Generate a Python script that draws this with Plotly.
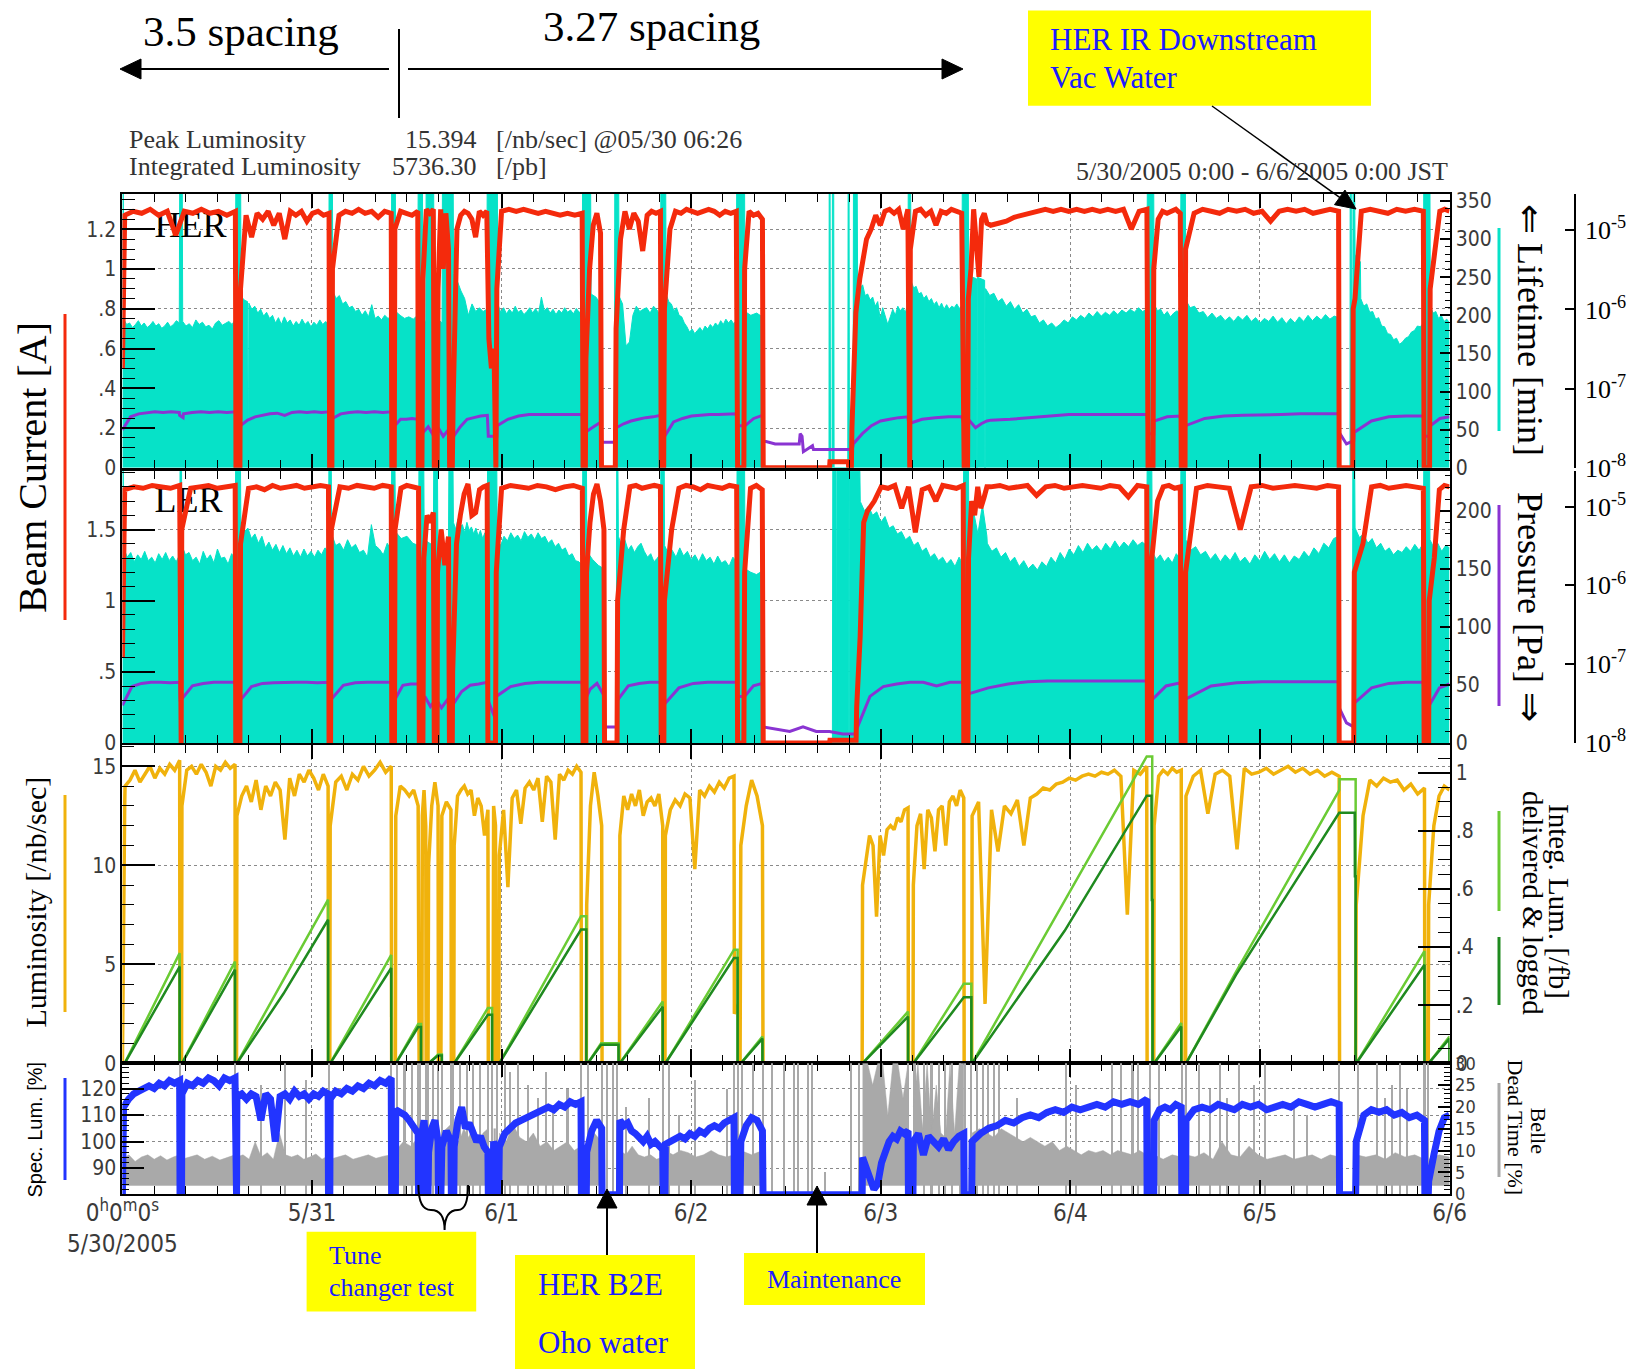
import numpy as np
import plotly.graph_objects as go

# Time is counted in days from 2005-05-30 00:00 JST.
day_ticks = [0, 1, 2, 3, 4, 5, 6, 7]
day_labels = ["0<sup>h</sup>0<sup>m</sup>0<sup>s</sup><br>5/30/2005",
              "5/31", "6/1", "6/2", "6/3", "6/4", "6/5", "6/6"]

# Every series is a list of (start_day, end_day, samples); samples are spread
# evenly over the span and consecutive spans are joined into one trace.

# HER beam current [A]
her_current = [
    (0.000, 0.010, [0.50, 1.22]),
    (0.012, 0.596, [1.27, 1.29, 1.28, 1.30, 1.27, 1.29, 1.17, 1.29, 1.28, 1.30, 1.28, 1.29, 1.27, 1.29]),
    (0.599, 0.620, [0.00, 0.00]),
    (0.623, 1.090, [0.90, 1.27, 1.16, 1.28, 1.25, 1.29, 1.22, 1.28, 1.15, 1.29, 1.27, 1.29, 1.24, 1.28, 1.29, 1.27, 1.28]),
    (1.093, 1.105, [0.00, 0.00]),
    (1.108, 1.418, [1.00, 1.27, 1.29, 1.28, 1.30, 1.28, 1.29, 1.26, 1.29, 1.28]),
    (1.421, 1.434, [0.00, 0.00]),
    (1.437, 1.558, [1.20, 1.29, 1.28, 1.27, 1.29]),
    (1.561, 1.580, [0.00, 0.00]),
    (1.585, 1.640, [0.95, 1.30, 1.28, 1.30]),
    (1.645, 1.660, [0.00, 0.00]),
    (1.665, 1.720, [0.90, 1.30, 1.00, 1.28, 1.10]),
    (1.726, 1.740, [0.00, 0.00]),
    (1.745, 1.922, [0.35, 1.20, 1.27, 1.29, 1.28, 1.25, 1.16, 1.29, 1.27, 1.29]),
    (1.933, 1.960, [0.65, 0.50, 0.60]),
    (1.965, 1.970, [0.00, 0.00]),
    (1.975, 1.998, [0.90, 1.25]),
    (2.000, 2.425, [1.29, 1.30, 1.29, 1.30, 1.29, 1.28, 1.29, 1.28, 1.27, 1.28, 1.27, 1.28]),
    (2.430, 2.442, [0.00, 0.00]),
    (2.445, 2.522, [0.55, 1.00, 1.22, 1.28, 1.18]),
    (2.527, 2.600, [0.00, 0.00]),
    (2.604, 2.838, [0.70, 1.15, 1.29, 1.20, 1.28, 1.24, 1.09, 1.27, 1.29, 1.28, 1.29]),
    (2.842, 2.855, [0.00, 0.00]),
    (2.859, 3.238, [0.80, 1.20, 1.29, 1.28, 1.30, 1.29, 1.28, 1.29, 1.30, 1.29, 1.27, 1.29, 1.28, 1.29]),
    (3.245, 3.278, [0.00, 0.00]),
    (3.282, 3.376, [1.00, 1.29, 1.27, 1.28, 1.25]),
    (3.380, 3.730, [0.00, 0.00]),
    (3.732, 3.829, [0.03, 0.03]),
    (3.831, 3.845, [0.00, 0.00]),
    (3.848, 3.910, [0.20, 0.78, 0.95, 1.05]),
    (3.925, 4.143, [1.15, 1.20, 1.27, 1.22, 1.29, 1.30, 1.28, 1.30, 1.20, 1.30]),
    (4.147, 4.153, [0.00, 0.00]),
    (4.156, 4.427, [1.10, 1.29, 1.30, 1.27, 1.29, 1.22, 1.29, 1.28, 1.30, 1.29, 1.28]),
    (4.440, 4.458, [0.00, 0.00]),
    (4.462, 4.560, [0.85, 1.00, 1.30, 1.10, 0.96, 1.25, 1.28, 1.23]),
    (4.580, 5.404, [1.22, 1.23, 1.24, 1.26, 1.27, 1.28, 1.29, 1.30, 1.29, 1.30, 1.29, 1.30, 1.29, 1.30,
                    1.29, 1.30, 1.29, 1.30, 1.20, 1.29, 1.30]),
    (5.410, 5.436, [0.00, 0.00]),
    (5.440, 5.580, [1.00, 1.25, 1.29, 1.28, 1.29, 1.30, 1.28]),
    (5.585, 5.605, [0.00, 0.00]),
    (5.608, 6.415, [1.10, 1.28, 1.30, 1.29, 1.28, 1.30, 1.29, 1.30, 1.28, 1.29, 1.24, 1.29, 1.30, 1.29,
                    1.30, 1.28, 1.29, 1.30, 1.29]),
    (6.418, 6.490, [0.00, 0.00]),
    (6.492, 6.530, [0.80, 0.85, 1.00, 1.10, 1.28]),
    (6.535, 6.862, [1.29, 1.30, 1.29, 1.28, 1.30, 1.29, 1.30, 1.29]),
    (6.866, 6.895, [0.00, 0.00]),
    (6.898, 7.000, [0.90, 1.10, 1.29, 1.30, 1.29]),
]

# HER beam lifetime [min]
her_lifetime = [
    (0.000, 0.005, [360, 360]),
    (0.007, 0.300, [195, 188, 190, 184, 188, 193, 186, 190, 184, 187, 192, 186, 189, 183, 186, 191, 185,
                    188, 193, 190]),
    (0.302, 0.316, [360, 360]),
    (0.318, 0.596, [192, 186, 189, 184, 194, 188, 191, 185, 187, 182, 190, 193, 187, 189, 192, 188, 195]),
    (0.598, 0.624, [360, 360]),
    (0.626, 0.660, [225, 220, 218]),
    (0.662, 0.665, [0, 0]),
    (0.667, 1.088, [216, 208, 212, 203, 208, 199, 204, 196, 200, 190, 197, 188, 198, 190, 194, 186, 192,
                    187, 195, 188, 192, 185, 191, 187, 194, 188, 192, 188]),
    (1.090, 1.108, [360, 360]),
    (1.110, 1.418, [232, 222, 226, 215, 218, 210, 212, 205, 208, 200, 206, 198, 214, 196, 199, 194, 200,
                    196, 198]),
    (1.420, 1.440, [360, 360]),
    (1.442, 1.557, [205, 200, 196, 198, 195, 200]),
    (1.560, 1.583, [360, 360]),
    (1.585, 1.600, [200, 190]),
    (1.602, 1.642, [360, 360]),
    (1.644, 1.686, [200, 195, 190]),
    (1.688, 1.745, [360, 360]),
    (1.747, 1.922, [255, 245, 232, 222, 200, 215, 205, 210, 205, 208]),
    (1.924, 1.978, [360, 360]),
    (1.980, 2.425, [215, 204, 210, 202, 208, 203, 212, 204, 207, 201, 205, 210, 203, 209, 202, 224, 206,
                    210, 203, 208, 201, 207, 203, 210, 204, 207, 202, 209, 204, 206]),
    (2.427, 2.470, [360, 360]),
    (2.472, 2.523, [228, 224, 215]),
    (2.525, 2.595, [0, 0]),
    (2.597, 2.618, [360, 360]),
    (2.620, 2.838, [225, 215, 160, 165, 200, 212, 205, 208, 210, 203, 212, 207, 200]),
    (2.840, 2.866, [360, 360]),
    (2.868, 3.238, [228, 218, 215, 206, 210, 200, 198, 190, 185, 178, 182, 176, 180, 184, 179, 186, 182,
                    188, 184, 190, 186, 193, 188, 195, 190, 194, 189, 193]),
    (3.240, 3.282, [360, 360]),
    (3.284, 3.376, [205, 200, 203, 198]),
    (3.378, 3.727, [0, 0]),
    (3.728, 3.733, [360, 360]),
    (3.735, 3.743, [0, 0]),
    (3.745, 3.752, [360, 360]),
    (3.754, 3.826, [0, 0]),
    (3.828, 3.833, [360, 360]),
    (3.835, 3.854, [0, 0]),
    (3.856, 3.876, [360, 360]),
    (3.878, 4.143, [245, 236, 240, 226, 228, 220, 224, 212, 218, 195, 210, 200, 188, 198, 208, 200, 212,
                    206, 210, 204, 215]),
    (4.145, 4.158, [360, 360]),
    (4.160, 4.428, [245, 236, 238, 228, 230, 222, 226, 218, 222, 214, 218, 210, 216, 208, 214, 208, 212,
                    210, 215, 209, 213]),
    (4.430, 4.462, [360, 360]),
    (4.464, 4.505, [255, 250, 248]),
    (4.506, 4.508, [0, 0]),
    (4.510, 4.548, [250, 246]),
    (4.549, 4.551, [0, 0]),
    (4.553, 5.403, [235, 226, 229, 218, 222, 212, 218, 208, 214, 203, 208, 198, 200, 190, 194, 186, 190,
                    184, 188, 194, 190, 198, 194, 200, 196, 203, 198, 205, 199, 204, 200, 206, 201, 207,
                    203, 208, 204, 210, 205, 208]),
    (5.406, 5.440, [360, 360]),
    (5.442, 5.580, [215, 206, 208, 200, 205, 198, 203, 206, 202]),
    (5.583, 5.607, [360, 360]),
    (5.609, 6.415, [220, 210, 212, 203, 205, 197, 203, 196, 200, 193, 198, 192, 199, 194, 200, 192, 197,
                    190, 196, 192, 199, 191, 197, 189, 196, 190, 198, 192, 200, 193, 199, 194, 201, 195,
                    199, 197]),
    (6.418, 6.475, [0, 0]),
    (6.476, 6.482, [360, 360]),
    (6.484, 6.489, [0, 0]),
    (6.491, 6.500, [360, 360]),
    (6.502, 6.530, [280, 275, 270]),
    (6.532, 6.862, [222, 212, 215, 204, 205, 195, 197, 186, 185, 176, 175, 168, 170, 162, 165, 170, 172,
                    178, 180, 186, 185, 190]),
    (6.864, 6.897, [360, 360]),
    (6.899, 7.000, [212, 203, 205, 196, 200, 192, 195, 190]),
]

# HER vacuum pressure [1e-8 Pa]
her_pressure = [
    (0.000, 0.300, [3.0, 4.4, 4.8, 5.0, 5.1, 5.0, 5.1, 5.0]),
    (0.302, 0.320, [4.6, 4.3]),
    (0.322, 0.597, [4.8, 5.0, 5.1, 5.0, 5.1, 5.0, 5.1]),
    (0.600, 0.620, [4.2, 4.0]),
    (0.622, 1.090, [3.4, 4.0, 4.4, 4.6, 4.8, 4.9, 4.6, 5.0, 5.1, 5.0, 5.1, 5.0, 5.1]),
    (1.093, 1.106, [4.0, 4.0]),
    (1.108, 1.418, [4.2, 4.8, 5.0, 5.1, 5.0, 5.1, 5.0, 5.1]),
    (1.421, 1.435, [4.2, 3.4]),
    (1.437, 1.558, [3.4, 4.1, 4.1, 4.2, 4.1]),
    (1.560, 1.745, [3.4, 2.8, 3.3, 2.6, 3.2, 2.5, 3.0, 2.5]),
    (1.747, 1.925, [2.5, 3.3, 4.1, 4.3, 4.5, 4.6]),
    (1.930, 1.975, [2.5, 2.5]),
    (1.977, 2.425, [3.4, 4.1, 4.5, 4.7, 4.7, 4.8, 4.7, 4.8, 4.7]),
    (2.430, 2.525, [2.7, 3.0, 3.4, 3.8]),
    (2.528, 2.602, [2.1, 2.1]),
    (2.605, 2.838, [3.2, 3.6, 3.9, 4.1, 4.3, 4.4, 4.6]),
    (2.842, 2.858, [2.6, 2.5]),
    (2.860, 3.238, [2.5, 3.8, 4.2, 4.5, 4.6, 4.7, 4.7, 4.8, 4.8]),
    (3.242, 3.282, [3.4, 3.4]),
    (3.284, 3.376, [3.4, 4.2, 4.6]),
    (3.380, 3.570, [2.2, 2.0, 2.0, 2.0]),
    (3.575, 3.585, [2.7, 2.5]),
    (3.592, 3.640, [1.6, 1.9]),
    (3.645, 3.850, [1.7, 1.7, 1.7]),
    (3.855, 4.143, [2.0, 2.7, 3.4, 3.9, 4.1, 4.3, 4.4]),
    (4.148, 4.428, [3.6, 4.1, 4.3, 4.4, 4.4]),
    (4.440, 4.560, [3.4, 3.9, 3.2, 3.6, 3.9]),
    (4.580, 5.404, [4.0, 4.1, 4.3, 4.5, 4.7, 4.7, 4.7, 4.7, 4.7]),
    (5.410, 5.440, [2.7, 2.7]),
    (5.442, 5.580, [3.9, 4.4, 4.5]),
    (5.585, 5.606, [3.0, 3.0]),
    (5.608, 6.415, [3.4, 4.2, 4.5, 4.6, 4.7, 4.7, 4.8, 4.8, 4.8]),
    (6.418, 6.495, [2.8, 2.0, 2.2]),
    (6.497, 6.862, [2.8, 3.9, 4.4, 4.5, 4.5]),
    (6.866, 6.897, [2.5, 2.5]),
    (6.899, 7.000, [3.4, 4.2, 4.4]),
]

# LER beam current [A]
ler_current = [
    (0.000, 0.010, [0.60, 1.70]),
    (0.012, 0.302, [1.78, 1.80, 1.79, 1.81, 1.80, 1.79, 1.81]),
    (0.305, 0.310, [0.00, 0.00]),
    (0.313, 0.595, [1.50, 1.79, 1.80, 1.81, 1.79, 1.80, 1.81]),
    (0.598, 0.620, [0.00, 0.00]),
    (0.623, 1.087, [1.40, 1.79, 1.80, 1.78, 1.81, 1.79, 1.80, 1.81, 1.79, 1.80, 1.81, 1.80]),
    (1.090, 1.098, [0.00, 0.00]),
    (1.102, 1.418, [1.50, 1.80, 1.79, 1.81, 1.80, 1.79, 1.81, 1.80]),
    (1.421, 1.435, [0.00, 0.00]),
    (1.438, 1.562, [1.50, 1.79, 1.81, 1.80, 1.79]),
    (1.566, 1.585, [0.00, 0.00]),
    (1.590, 1.640, [1.30, 1.60, 1.55, 1.62]),
    (1.645, 1.660, [0.00, 0.00]),
    (1.662, 1.720, [1.20, 1.50, 1.25, 1.45]),
    (1.725, 1.740, [0.00, 0.00]),
    (1.742, 1.924, [0.50, 1.40, 1.60, 1.75, 1.82, 1.60, 1.62, 1.78, 1.80, 1.81]),
    (1.928, 1.968, [0.00, 0.00]),
    (1.972, 1.995, [1.20, 1.60]),
    (2.000, 2.426, [1.79, 1.81, 1.80, 1.79, 1.81, 1.80, 1.78, 1.80, 1.81, 1.79]),
    (2.430, 2.445, [0.00, 0.00]),
    (2.448, 2.540, [1.20, 1.55, 1.75, 1.82, 1.70, 1.50]),
    (2.543, 2.609, [0.00, 0.00]),
    (2.612, 2.838, [1.00, 1.50, 1.80, 1.81, 1.79, 1.80, 1.81, 1.80]),
    (2.842, 2.856, [0.00, 0.00]),
    (2.859, 3.240, [1.00, 1.50, 1.79, 1.81, 1.80, 1.78, 1.81, 1.80, 1.79, 1.81, 1.80]),
    (3.245, 3.278, [0.00, 0.00]),
    (3.282, 3.375, [1.20, 1.79, 1.81, 1.78]),
    (3.380, 3.730, [0.00, 0.00]),
    (3.732, 3.870, [0.02, 0.02]),
    (3.873, 3.910, [0.25, 0.75, 1.55]),
    (3.930, 4.435, [1.63, 1.70, 1.80, 1.79, 1.81, 1.65, 1.80, 1.48, 1.78, 1.80, 1.70, 1.81, 1.80, 1.79, 1.81]),
    (4.438, 4.460, [0.00, 0.00]),
    (4.463, 4.560, [1.30, 1.70, 1.60, 1.80, 1.65, 1.72, 1.80]),
    (4.580, 5.403, [1.80, 1.81, 1.79, 1.80, 1.81, 1.74, 1.80, 1.81, 1.79, 1.80, 1.81, 1.80, 1.79, 1.81,
                    1.80, 1.73, 1.81, 1.80]),
    (5.407, 5.427, [0.00, 0.00]),
    (5.430, 5.580, [1.30, 1.70, 1.80, 1.81, 1.79, 1.80]),
    (5.585, 5.605, [0.00, 0.00]),
    (5.608, 6.415, [1.20, 1.79, 1.81, 1.80, 1.79, 1.50, 1.80, 1.81, 1.79, 1.80, 1.81, 1.80, 1.79, 1.81, 1.80]),
    (6.418, 6.495, [0.00, 0.00]),
    (6.498, 6.862, [1.20, 1.40, 1.80, 1.81, 1.79, 1.80, 1.81, 1.80, 1.79]),
    (6.866, 6.890, [0.00, 0.00]),
    (6.893, 7.000, [1.00, 1.30, 1.78, 1.81, 1.80]),
]

# LER beam lifetime [min]
ler_lifetime = [
    (0.000, 0.005, [234, 234]),
    (0.007, 0.302, [168, 160, 164, 156, 162, 158, 165, 157, 160, 155, 163, 158, 164, 157, 161, 156, 162]),
    (0.304, 0.312, [234, 234]),
    (0.314, 0.595, [170, 162, 164, 157, 160, 154, 165, 158, 162, 155, 167, 159, 160, 154, 163, 158]),
    (0.597, 0.623, [234, 234]),
    (0.625, 1.087, [190, 182, 185, 176, 180, 172, 178, 168, 173, 166, 171, 164, 170, 163, 168, 161, 166,
                    160, 167, 161, 165, 160, 166, 162, 168, 165]),
    (1.089, 1.102, [234, 234]),
    (1.104, 1.418, [180, 170, 172, 166, 175, 168, 171, 164, 166, 160, 188, 170, 167, 162, 172, 166]),
    (1.420, 1.438, [234, 234]),
    (1.440, 1.562, [182, 176, 178, 172, 170]),
    (1.564, 1.590, [234, 234]),
    (1.592, 1.640, [175, 170]),
    (1.642, 1.662, [234, 234]),
    (1.664, 1.720, [172, 168, 175]),
    (1.722, 1.744, [234, 234]),
    (1.746, 1.924, [190, 184, 193, 186, 188, 181, 190, 183, 186, 180, 185, 178, 183, 176, 181, 180]),
    (1.926, 1.975, [234, 234]),
    (1.977, 2.426, [175, 170, 178, 174, 181, 176, 179, 174, 182, 177, 180, 175, 181, 176, 178, 172, 175,
                    169, 172, 166, 168, 161, 163, 157, 156, 153]),
    (2.428, 2.448, [234, 234]),
    (2.450, 2.540, [165, 158, 153, 150]),
    (2.542, 2.605, [0, 0]),
    (2.607, 2.614, [234, 234]),
    (2.616, 2.838, [178, 170, 175, 166, 170, 164, 169, 172, 165, 160, 163, 156, 159, 163]),
    (2.840, 2.858, [234, 234]),
    (2.860, 3.240, [170, 163, 166, 160, 168, 161, 165, 158, 162, 156, 163, 157, 160, 154, 161, 155, 157,
                    152, 160, 156]),
    (3.242, 3.282, [234, 234]),
    (3.284, 3.375, [150, 147, 145, 148]),
    (3.377, 3.745, [0, 0]),
    (3.747, 3.764, [234, 234]),
    (3.765, 3.768, [0, 0]),
    (3.769, 3.830, [234, 234]),
    (3.831, 3.834, [0, 0]),
    (3.835, 3.890, [234, 234]),
    (3.892, 4.435, [208, 200, 204, 196, 199, 190, 195, 185, 187, 180, 182, 175, 178, 170, 173, 165, 168,
                    160, 163, 157, 160, 154, 158, 152, 160, 153]),
    (4.437, 4.463, [234, 234]),
    (4.465, 4.560, [175, 200, 180, 205, 178]),
    (4.562, 5.403, [172, 165, 168, 160, 164, 156, 160, 152, 157, 150, 154, 149, 156, 152, 160, 155, 164,
                    158, 167, 162, 170, 164, 172, 166, 170, 165, 172, 167, 174, 168, 173, 169, 175, 170,
                    173, 170]),
    (5.405, 5.430, [234, 234]),
    (5.432, 5.580, [165, 158, 162, 156, 160, 155, 163, 158]),
    (5.583, 5.607, [234, 234]),
    (5.609, 6.415, [175, 166, 169, 162, 165, 158, 163, 156, 162, 157, 164, 156, 160, 154, 162, 157, 165,
                    158, 163, 156, 162, 155, 161, 158, 165, 160, 168, 163, 172, 168, 176, 178]),
    (6.418, 6.488, [0, 0]),
    (6.490, 6.500, [234, 234]),
    (6.502, 6.862, [185, 177, 180, 172, 176, 168, 172, 165, 168, 162, 166, 164, 169, 165, 171, 166, 172]),
    (6.864, 6.895, [234, 234]),
    (6.897, 7.000, [175, 168, 172, 165, 170, 168]),
]

# LER vacuum pressure [1e-8 Pa]
ler_pressure = [
    (0.000, 0.302, [3.0, 5.2, 5.7, 5.9, 5.9, 5.8, 5.9]),
    (0.305, 0.310, [3.5, 3.5]),
    (0.313, 0.595, [3.6, 5.3, 5.7, 5.9, 5.9, 5.9]),
    (0.598, 0.620, [3.5, 3.5]),
    (0.623, 1.087, [3.5, 5.2, 5.7, 5.8, 5.9, 5.9, 5.9, 5.8, 5.9]),
    (1.090, 1.100, [3.6, 3.6]),
    (1.102, 1.418, [3.6, 5.4, 5.8, 5.9, 5.9, 5.9]),
    (1.421, 1.436, [3.5, 3.5]),
    (1.438, 1.562, [3.6, 5.4, 5.6, 5.6]),
    (1.566, 1.742, [2.8, 3.9, 2.9, 3.6, 2.8, 3.5, 2.7]),
    (1.745, 1.924, [3.1, 4.5, 5.4, 5.6, 5.9]),
    (1.928, 1.968, [3.5, 2.0]),
    (1.972, 2.426, [3.9, 5.2, 5.7, 5.9, 5.9, 5.9, 5.9]),
    (2.430, 2.540, [3.1, 4.8, 5.7, 4.0]),
    (2.543, 2.608, [1.6, 1.6]),
    (2.612, 2.838, [3.5, 5.3, 5.7, 5.9, 5.9]),
    (2.842, 2.857, [3.2, 3.1]),
    (2.859, 3.240, [3.1, 5.0, 5.7, 5.9, 5.9, 5.9]),
    (3.245, 3.280, [3.9, 3.9]),
    (3.282, 3.375, [3.9, 5.3, 5.7]),
    (3.380, 3.870, [1.6, 1.5, 1.4, 1.6, 1.4, 1.4, 1.3, 1.3]),
    (3.873, 4.435, [1.5, 3.9, 5.2, 5.6, 5.9, 5.9, 5.3, 5.9, 5.9]),
    (4.438, 4.460, [3.2, 3.2]),
    (4.463, 5.403, [4.2, 5.0, 5.6, 6.0, 6.1, 6.1, 6.1, 6.0, 6.1, 6.1]),
    (5.407, 5.428, [3.5, 3.5]),
    (5.430, 5.580, [3.5, 5.3, 5.8]),
    (5.585, 5.605, [3.5, 3.5]),
    (5.608, 6.415, [3.6, 5.3, 5.8, 6.0, 6.0, 6.0, 6.0]),
    (6.418, 6.495, [2.8, 1.8, 1.6]),
    (6.498, 6.862, [3.2, 5.0, 5.7, 5.9, 5.9]),
    (6.866, 6.890, [2.8, 2.0]),
    (6.893, 7.000, [3.0, 5.0, 5.6]),
]

# Belle luminosity [/nb/sec]
luminosity = [
    (0.000, 0.012, [0.0, 10.0, 13.0]),
    (0.014, 0.302, [14.0, 14.3, 14.8, 14.2, 14.6, 15.0, 14.4, 14.9, 14.6, 15.1, 14.8, 15.3]),
    (0.304, 0.312, [0.0, 0.0]),
    (0.314, 0.594, [13.0, 14.8, 15.0, 14.6, 15.1, 14.7, 14.0, 15.0, 14.8, 15.2, 14.9, 15.1]),
    (0.596, 0.602, [0.0, 0.0]),
    (0.604, 1.085, [12.5, 13.5, 14.0, 13.2, 14.3, 12.8, 14.0, 13.5, 14.2, 13.8, 11.3, 14.4, 13.5, 14.6,
                    14.2, 14.8, 14.4, 13.8, 14.6, 14.0]),
    (1.087, 1.094, [0.0, 0.0]),
    (1.096, 1.418, [12.0, 14.2, 14.5, 13.8, 14.6, 14.3, 15.0, 14.5, 14.8, 15.2, 14.7, 15.0]),
    (1.420, 1.440, [0.0, 0.0]),
    (1.442, 1.560, [12.5, 14.0, 13.8, 13.5, 13.8, 13.0]),
    (1.565, 1.580, [0.0, 0.0]),
    (1.582, 1.600, [12.5, 13.8, 12.0]),
    (1.602, 1.612, [0.0, 0.0]),
    (1.615, 1.665, [10.0, 13.0, 14.2, 13.0]),
    (1.667, 1.680, [0.0, 0.0]),
    (1.685, 1.733, [12.5, 13.2, 12.8]),
    (1.735, 1.748, [0.0, 0.0]),
    (1.750, 1.928, [11.0, 13.5, 13.8, 14.0, 13.6, 13.8, 12.5, 13.4, 13.0, 11.5, 12.8]),
    (1.930, 1.955, [0.0, 0.0]),
    (1.958, 1.968, [13.0, 12.0]),
    (1.970, 1.985, [0.0, 0.0]),
    (1.988, 2.419, [10.5, 12.8, 8.9, 13.4, 13.8, 12.1, 13.9, 14.2, 13.8, 14.4, 12.2, 14.5, 14.2, 11.3,
                    14.6, 14.3, 14.8, 14.6, 15.0, 14.7]),
    (2.421, 2.447, [0.0, 0.0]),
    (2.449, 2.528, [8.0, 13.0, 14.7, 13.5, 12.0]),
    (2.530, 2.622, [0.0, 0.0]),
    (2.624, 2.850, [11.5, 13.5, 12.8, 13.6, 13.0, 13.8, 12.5, 13.2, 13.4, 13.0, 13.6, 12.0]),
    (2.852, 2.862, [0.0, 0.0]),
    (2.864, 3.226, [11.5, 12.8, 13.3, 13.0, 13.6, 13.4, 9.8, 13.8, 13.5, 14.0, 13.7, 14.2, 13.9, 14.4, 14.5]),
    (3.228, 3.250, [2.5, 3.0]),
    (3.252, 3.258, [0.0, 0.0]),
    (3.262, 3.376, [11.0, 13.0, 14.3, 13.5, 12.0]),
    (3.379, 3.902, [0.0, 0.0]),
    (3.904, 4.144, [9.0, 10.3, 11.5, 11.0, 7.4, 11.5, 10.5, 11.8, 12.0, 11.8, 12.4, 12.2, 12.8, 12.9]),
    (4.146, 4.170, [0.0, 0.0]),
    (4.172, 4.438, [9.0, 12.0, 12.6, 9.8, 12.8, 12.4, 10.7, 12.8, 13.0, 11.0, 13.2, 13.5, 13.0, 13.8, 13.4]),
    (4.440, 4.480, [0.0, 0.0]),
    (4.482, 5.403, [12.5, 13.2, 3.0, 12.8, 10.7, 13.0, 12.6, 13.3, 11.0, 13.4, 13.6, 13.9, 13.8, 14.1,
                    14.2, 14.4, 14.3, 14.5, 14.6, 14.5, 14.7, 14.6, 14.8, 14.5, 7.5, 14.8, 14.6, 15.0]),
    (5.405, 5.440, [0.0, 0.0]),
    (5.442, 5.585, [12.0, 14.5, 14.8, 14.6, 14.9, 14.7, 14.8]),
    (5.588, 5.608, [0.0, 0.0]),
    (5.610, 6.418, [13.5, 14.5, 14.8, 12.6, 14.6, 14.8, 14.5, 10.8, 14.9, 14.6, 14.7, 14.9, 14.6, 14.8,
                    15.0, 14.7, 14.9, 14.6, 14.8, 14.5, 14.7, 14.5]),
    (6.420, 6.505, [0.0, 0.0]),
    (6.508, 6.868, [8.0, 12.5, 14.3, 14.0, 14.4, 14.2, 14.3, 13.8, 14.1, 13.6, 13.9]),
    (6.870, 6.888, [0.0, 0.0]),
    (6.890, 7.000, [8.0, 12.0, 13.5, 14.0, 13.8]),
]

# Integrated luminosity per run [/fb]: polylines (day, value)
integ_delivered = [
    [(0.012, 0.0), (0.302, 0.379)],
    [(0.314, 0.0), (0.594, 0.350)],
    [(0.604, 0.0), (1.085, 0.563)],
    [(1.096, 0.0), (1.418, 0.373)],
    [(1.442, 0.0), (1.560, 0.135), (1.575, 0.135)],
    [(1.615, 0.0), (1.665, 0.030), (1.685, 0.030)],
    [(1.750, 0.0), (1.928, 0.190), (1.950, 0.190)],
    [(1.988, 0.0), (2.419, 0.506), (2.447, 0.506)],
    [(2.455, 0.0), (2.525, 0.069), (2.617, 0.069)],
    [(2.624, 0.0), (2.850, 0.213)],
    [(2.864, 0.0), (3.226, 0.391), (3.245, 0.391)],
    [(3.262, 0.0), (3.376, 0.092)],
    [(3.904, 0.0), (4.144, 0.178)],
    [(4.172, 0.0), (4.438, 0.274), (4.478, 0.274)],
    [(4.482, 0.0), (5.403, 1.056), (5.432, 1.056)],
    [(5.442, 0.0), (5.585, 0.139)],
    [(5.610, 0.0), (5.874, 0.315), (6.418, 0.939), (6.420, 0.977), (6.505, 0.977)],
    [(6.508, 0.0), (6.868, 0.386)],
    [(6.890, 0.0), (7.000, 0.092)],
]
integ_logged = [
    [(0.012, 0.0), (0.302, 0.333)],
    [(0.314, 0.0), (0.594, 0.322)],
    [(0.604, 0.0), (0.850, 0.240), (1.085, 0.494)],
    [(1.096, 0.0), (1.418, 0.328)],
    [(1.442, 0.0), (1.560, 0.125), (1.575, 0.125)],
    [(1.615, 0.0), (1.665, 0.027), (1.685, 0.027)],
    [(1.750, 0.0), (1.928, 0.167), (1.950, 0.167)],
    [(1.988, 0.0), (2.419, 0.460), (2.447, 0.460)],
    [(2.455, 0.0), (2.525, 0.064), (2.617, 0.064)],
    [(2.624, 0.0), (2.850, 0.195)],
    [(2.864, 0.0), (3.226, 0.362), (3.245, 0.362)],
    [(3.262, 0.0), (3.376, 0.085)],
    [(3.904, 0.0), (4.144, 0.161)],
    [(4.172, 0.0), (4.438, 0.227), (4.478, 0.227)],
    [(4.482, 0.0), (4.970, 0.456), (5.403, 0.921), (5.428, 0.921), (5.430, 0.562), (5.434, 0.562)],
    [(5.442, 0.0), (5.585, 0.127)],
    [(5.610, 0.0), (5.874, 0.304), (6.418, 0.862), (6.500, 0.862), (6.501, 0.644), (6.505, 0.644)],
    [(6.508, 0.0), (6.868, 0.339)],
    [(6.890, 0.0), (7.000, 0.085)],
]

# Specific luminosity [%]
spec_lumi = [
    (0.000, 0.004, [80, 112]),
    (0.006, 0.302, [113, 116, 118, 119, 120, 121, 120, 122, 121, 123, 122, 123]),
    (0.304, 0.312, [80, 80]),
    (0.314, 0.594, [118, 122, 121, 123, 122, 124, 123, 121, 124, 123, 124]),
    (0.596, 0.602, [80, 80]),
    (0.604, 1.085, [117, 118, 116, 118, 117, 108, 118, 116, 100, 117, 118, 116, 119, 117, 118, 116, 118, 117, 119, 118]),
    (1.087, 1.094, [80, 80]),
    (1.096, 1.418, [116, 119, 118, 120, 119, 121, 120, 122, 121, 123, 122, 124]),
    (1.420, 1.440, [80, 80]),
    (1.442, 1.560, [112, 111, 110, 108, 106, 103]),
    (1.562, 1.580, [80, 80]),
    (1.582, 1.600, [104, 108, 100]),
    (1.602, 1.612, [80, 80]),
    (1.615, 1.665, [96, 105, 108, 100]),
    (1.667, 1.680, [80, 80]),
    (1.685, 1.733, [98, 104, 100]),
    (1.735, 1.748, [80, 80]),
    (1.750, 1.928, [98, 108, 113, 105, 107, 104, 100, 102, 98, 96]),
    (1.930, 1.955, [80, 80]),
    (1.958, 1.968, [100, 98]),
    (1.970, 1.985, [80, 80]),
    (1.988, 2.419, [98, 103, 105, 107, 108, 109, 110, 111, 112, 113, 112, 114, 113, 115, 114, 115]),
    (2.421, 2.447, [80, 80]),
    (2.449, 2.528, [96, 104, 108, 105]),
    (2.530, 2.622, [80, 80]),
    (2.624, 2.850, [108, 106, 107, 104, 103, 101, 100, 102, 99, 100, 98, 97]),
    (2.852, 2.862, [80, 80]),
    (2.864, 3.226, [99, 100, 101, 102, 101, 103, 102, 104, 103, 105, 106, 105, 107, 108, 109]),
    (3.228, 3.258, [80, 80]),
    (3.262, 3.376, [100, 106, 109, 108, 104]),
    (3.379, 3.902, [80, 80]),
    (3.904, 4.144, [94, 90, 86, 82, 84, 92, 96, 100, 102, 101, 104, 103, 104]),
    (4.146, 4.170, [80, 80]),
    (4.172, 4.438, [100, 103, 95, 102, 100, 98, 101, 97, 100, 102, 103]),
    (4.440, 4.480, [80, 80]),
    (4.482, 5.403, [100, 103, 105, 106, 108, 107, 109, 110, 109, 111, 112, 111, 113, 112, 113, 114,
                    113, 115, 114, 115, 114, 116]),
    (5.405, 5.440, [80, 80]),
    (5.442, 5.585, [108, 112, 113, 112, 114, 113]),
    (5.588, 5.608, [80, 80]),
    (5.610, 6.418, [108, 112, 113, 112, 114, 113, 112, 114, 113, 114, 112, 113, 114, 113, 115, 114,
                    113, 114, 115, 114]),
    (6.420, 6.505, [80, 80]),
    (6.508, 6.868, [100, 110, 112, 111, 112, 110, 111, 109, 110, 108]),
    (6.870, 6.888, [80, 80]),
    (6.890, 7.000, [85, 95, 104, 109, 110]),
]

# Belle dead time [%]: upper edge of the band during each physics run
dead_time_top = [
    (0.000, 0.302, [8.0, 9.0, 7.5, 8.5, 9.0, 8.0, 8.8, 7.8, 8.5, 9.0]),
    (0.314, 0.594, [8.0, 8.5, 9.0, 8.0, 8.7, 7.8, 8.4, 9.0]),
    (0.604, 1.085, [8.5, 9.0, 8.0, 12.0, 8.5, 9.5, 8.0, 14.0, 9.0, 8.5, 9.0, 8.0, 8.5, 9.2, 8.0, 8.8]),
    (1.096, 1.418, [8.0, 8.5, 9.0, 8.0, 8.5, 9.0, 8.2, 8.7, 9.0]),
    (1.442, 1.560, [10.0, 12.0, 11.0, 13.0]),
    (1.582, 1.600, [14.0, 16.0]),
    (1.615, 1.665, [15.0, 12.0, 16.0]),
    (1.685, 1.733, [14.0, 16.0]),
    (1.750, 1.928, [14.0, 12.0, 15.0, 13.0, 16.0, 12.0, 14.0, 15.0]),
    (1.958, 1.968, [15.0, 15.0]),
    (1.988, 2.419, [14.0, 12.0, 16.0, 13.0, 12.0, 14.0, 11.0, 12.0, 10.0, 11.0, 12.0, 10.0, 11.0]),
    (2.449, 2.528, [12.0, 14.0, 12.0]),
    (2.624, 2.850, [10.0, 9.0, 11.0, 9.0, 8.5, 9.0, 8.0, 8.5]),
    (2.864, 3.226, [10.0, 9.0, 10.0, 9.5, 8.5, 9.0, 10.0, 9.0, 8.5, 9.0]),
    (3.262, 3.376, [10.0, 9.0, 10.0]),
    (3.904, 4.144, [30.0, 30.0, 25.0, 30.0, 30.0, 18.0, 30.0, 30.0, 22.0, 30.0]),
    (4.172, 4.438, [20.0, 30.0, 15.0, 30.0, 14.0, 25.0, 14.0, 13.0, 30.0, 14.0, 30.0, 30.0]),
    (4.482, 5.403, [14.0, 15.0, 14.0, 13.0, 15.0, 14.0, 13.0, 12.0, 13.0, 12.0, 11.0, 12.0, 10.0, 11.0,
                    10.0, 9.0, 10.0, 9.5, 10.0, 9.0, 10.0, 9.5, 9.0, 10.0, 9.0]),
    (5.442, 5.585, [9.0, 8.0, 9.0, 8.5]),
    (5.610, 6.418, [9.0, 8.5, 9.5, 8.0, 12.0, 9.0, 8.5, 11.0, 9.0, 8.0, 8.5, 9.0, 8.0, 8.5, 9.0, 8.0, 9.0, 8.5]),
    (6.508, 6.868, [9.0, 8.5, 9.0, 8.0, 9.5, 8.5, 9.0, 8.0]),
    (6.890, 7.000, [8.0, 9.0, 8.5]),
]
dead_time_floor = 2.0  # lower edge of the dead-time band [%]

# Short dead-time excursions (day, peak %)
dead_time_spikes = [
    (0.304, 30), (0.597, 30), (0.734, 25), (0.858, 30), (0.970, 26), (1.090, 30), (1.420, 30),
    (1.452, 30), (1.490, 30), (1.530, 30), (1.563, 30), (1.574, 30), (1.604, 30), (1.612, 30),
    (1.642, 30), (1.668, 30), (1.690, 30), (1.736, 30), (1.748, 30), (1.782, 30), (1.820, 30),
    (1.853, 30), (1.890, 30), (1.930, 30), (1.950, 30), (1.978, 30), (2.020, 30), (2.045, 28),
    (2.090, 30), (2.140, 25), (2.195, 22), (2.235, 28), (2.275, 20), (2.350, 24), (2.423, 30),
    (2.460, 30), (2.530, 30), (2.560, 30), (2.590, 30), (2.610, 30), (2.660, 20), (2.780, 22),
    (2.852, 30), (2.886, 30), (2.940, 18), (3.020, 26), (3.190, 24), (3.230, 30), (3.250, 30),
    (3.270, 30), (3.330, 30), (3.382, 30), (3.430, 30), (3.490, 30), (3.545, 30), (3.565, 30),
    (3.620, 30), (3.640, 30), (3.710, 5), (3.845, 30), (3.886, 30), (4.146, 30), (4.180, 30),
    (4.230, 30), (4.270, 30), (4.310, 30), (4.340, 30), (4.380, 30), (4.420, 30), (4.445, 30),
    (4.480, 30), (4.510, 30), (4.540, 30), (4.570, 30), (4.600, 30), (4.625, 30), (4.720, 22),
    (4.980, 30), (5.030, 25), (5.220, 30), (5.270, 30), (5.330, 30), (5.360, 30), (5.420, 30),
    (5.470, 30), (5.590, 30), (5.610, 30), (5.680, 30), (5.740, 24), (5.790, 30), (5.830, 22),
    (5.890, 30), (5.970, 25), (6.030, 30), (6.180, 20), (6.250, 18), (6.420, 30), (6.520, 30),
    (6.620, 30), (6.660, 22), (6.700, 25), (6.740, 30), (6.780, 24), (6.870, 30), (6.890, 30),
]

# ---------------------------------------------------------------------------
W, H = 1641, 1370


def px(x):
    return x / W


def py(y):
    return 1 - y / H


def expand(segments, unit=1.0):
    xs, ys = [], []
    for t0, t1, vals in segments:
        xs += list(np.linspace(t0, t1, len(vals)))
        ys += [v * unit for v in vals]
    return xs, ys


def polylines(pieces):
    xs, ys = [], []
    for piece in pieces:
        for t, v in piece:
            xs.append(t)
            ys.append(v)
        xs += [piece[-1][0], None]
        ys += [0.0, None]
    return xs, ys


def band(segments, floor):
    xs, ys = [], []
    for t0, t1, vals in segments:
        xs += list(np.linspace(t0, t1, len(vals))) + [t1, t0, None]
        ys += list(vals) + [floor, floor, None]
    return xs, ys


CYAN = "#06e2c8"
RED = "#f42a0c"
PURPLE = "#8a34d2"
GOLD = "#f0b20c"
LGREEN = "#6acb34"
DGREEN = "#1f8a1f"
BLUE = "#2234ff"
GRAY = "#a9a9a9"
TXT_BLUE = "#1c1cff"
YELLOW = "#ffff00"

SERIF = "Liberation Serif, Times New Roman, serif"
NARROW = "Liberation Sans Narrow, DejaVu Sans Condensed, Arial Narrow, sans-serif"
SANS = "Liberation Sans, Arial, sans-serif"
TICKFONT = dict(family=NARROW, size=21, color="#3a3a3a")

X_DOM = [px(122.4), px(1449.5)]
HER_DOM = [py(467.8), py(193.6)]
LER_DOM = [py(743.0), py(470.5)]
LUM_DOM = [py(1063.3), py(744.5)]
SPEC_DOM = [py(1194.1), py(1063.3)]
LOG_POS = px(1575)

fig = go.Figure()


def lines(xs, ys, color, width, xa, ya, **kw):
    fig.add_trace(go.Scatter(x=xs, y=ys, mode="lines", line=dict(color=color, width=width),
                             xaxis=xa, yaxis=ya, hoverinfo="skip", **kw))


# HER panel: lifetime (base), pressure, current
xs, ys = expand(her_lifetime)
lines(xs, ys, CYAN, 1, "x", "y", fill="tozeroy", fillcolor=CYAN)
fig.add_trace(go.Scatter(x=[0.17], y=[315], mode="text", text=["HER"], textposition="middle right",
                         textfont=dict(family=SERIF, size=36, color="black"), xaxis="x", yaxis="y",
                         hoverinfo="skip"))
xs, ys = expand(her_pressure, 1e-8)
lines(xs, ys, PURPLE, 3, "x", "y2")
xs, ys = expand(her_current)
lines(xs, ys, RED, 5, "x", "y3")

# LER panel
xs, ys = expand(ler_lifetime)
lines(xs, ys, CYAN, 1, "x2", "y4", fill="tozeroy", fillcolor=CYAN)
fig.add_trace(go.Scatter(x=[0.17], y=[207], mode="text", text=["LER"], textposition="middle right",
                         textfont=dict(family=SERIF, size=36, color="black"), xaxis="x2", yaxis="y4",
                         hoverinfo="skip"))
xs, ys = expand(ler_pressure, 1e-8)
lines(xs, ys, PURPLE, 3, "x2", "y5")
xs, ys = expand(ler_current)
lines(xs, ys, RED, 5, "x2", "y6")

# Luminosity panel
xs, ys = expand(luminosity)
lines(xs, ys, GOLD, 3.5, "x3", "y7")
xs, ys = polylines(integ_delivered)
lines(xs, ys, LGREEN, 2.5, "x3", "y8")
xs, ys = polylines(integ_logged)
lines(xs, ys, DGREEN, 2.5, "x3", "y8")

# Specific luminosity / dead time panel
spike_t = [t for t, _ in dead_time_spikes]
spike_h = [h for _, h in dead_time_spikes]
fig.add_trace(go.Bar(x=spike_t, y=spike_h, width=0.011, marker=dict(color=GRAY, line=dict(width=0)),
                     xaxis="x4", yaxis="y9", hoverinfo="skip"))
xs, ys = band(dead_time_top, dead_time_floor)
lines(xs, ys, GRAY, 0.5, "x4", "y9", fill="toself", fillcolor=GRAY)
xs, ys = expand(spec_lumi)
lines(xs, ys, BLUE, 7, "x4", "y10")


# ---------------------------------------------------------------------------
def x_axis(anchor, labels=False):
    return dict(domain=X_DOM, anchor=anchor, range=[0, 7], tickmode="array", tickvals=day_ticks,
                ticktext=day_labels, showticklabels=labels, ticks="inside", ticklen=14, tickwidth=1.5,
                tickcolor="black", showline=True, linewidth=2, linecolor="black", mirror="ticks",
                showgrid=True, gridcolor="#8a8a8a", griddash="dot", gridwidth=1, zeroline=False,
                layer="above traces", fixedrange=True, automargin=False, ticklabelstandoff=-4,
                tickfont=dict(family=NARROW, size=24, color="#3a3a3a"),
                minor=dict(tickmode="linear", tick0=0, dtick=1 / 6, ticks="inside", ticklen=8,
                           tickwidth=1.2, tickcolor="black", showgrid=False))


def y_axis(domain=None, rng=None, side="left", vals=None, text=None, major=10, minor=None, minor_len=5,
           grid=False, anchor="x", overlaying=None, minor0=0):
    ax = dict(range=rng, side=side, anchor=anchor, tickmode="array", tickvals=vals,
              ticktext=text if text else [str(v) for v in vals], ticks="inside", ticklen=major,
              tickwidth=1.5, tickcolor="black", showline=True, linewidth=2, linecolor="black",
              zeroline=False, showgrid=grid, gridcolor="#8a8a8a", griddash="dot", gridwidth=1,
              tickfont=TICKFONT, layer="above traces", fixedrange=True, automargin=False)
    if domain is not None:
        ax["domain"] = domain
    if overlaying:
        ax["overlaying"] = overlaying
    if minor:
        ax["minor"] = dict(tickmode="linear", tick0=minor0, dtick=minor, ticks="inside", ticklen=minor_len,
                           tickwidth=1, tickcolor="black", showgrid=False)
    return ax


def log_axis(rng, overlaying):
    return dict(type="log", range=rng, overlaying=overlaying, anchor="free", position=LOG_POS, side="right",
                tickmode="array", tickvals=[1e-8, 1e-7, 1e-6, 1e-5],
                ticktext=["10<sup>-8</sup>", "10<sup>-7</sup>", "10<sup>-6</sup>", "10<sup>-5</sup>"],
                ticks="inside", ticklen=9, tickwidth=1.5, tickcolor="black", showline=True, linewidth=1.5,
                linecolor="black", showgrid=False, zeroline=False, fixedrange=True, automargin=False,
                ticklabelstandoff=4, tickfont=dict(family=SERIF, size=26, color="black"))


layout = dict(
    template="none",
    width=W, height=H, margin=dict(l=0, r=0, t=0, b=0, pad=0, autoexpand=False), autosize=False,
    paper_bgcolor="white", plot_bgcolor="white", showlegend=False, bargap=0,
    xaxis=x_axis("y"), xaxis2=x_axis("y4"), xaxis3=x_axis("y7"), xaxis4=x_axis("y9", labels=True),
    yaxis=y_axis(HER_DOM, [0, 359.7], "right", list(range(0, 351, 50)), major=10, minor=10, minor_len=5),
    yaxis2=log_axis([-8, -4.537], "y"),
    yaxis3=y_axis(None, [0, 1.379], "left", [0, 0.2, 0.4, 0.6, 0.8, 1.0, 1.2],
                  ["0", ".2", ".4", ".6", ".8", "1", "1.2"], major=33, minor=0.05, minor_len=13,
                  grid=True, overlaying="y"),
    yaxis4=y_axis(LER_DOM, [0, 234.6], "right", [0, 50, 100, 150, 200], anchor="x2", major=10, minor=10,
                  minor_len=5),
    yaxis5=log_axis([-8, -4.543], "y4"),
    yaxis6=y_axis(None, [0, 1.915], "left", [0, 0.5, 1.0, 1.5], ["0", ".5", "1", "1.5"], anchor="x2",
                  major=33, minor=0.1, minor_len=13, grid=True, overlaying="y4"),
    yaxis7=y_axis(LUM_DOM, [0, 16.1], "left", [0, 5, 10, 15], anchor="x3", major=33, minor=1, minor_len=12,
                  grid=True),
    yaxis8=y_axis(None, [0, 1.097], "right", [0, 0.2, 0.4, 0.6, 0.8, 1.0], ["0", ".2", ".4", ".6", ".8", "1"],
                  anchor="x3", major=32, minor=0.05, minor_len=12, overlaying="y7"),
    yaxis9=y_axis(SPEC_DOM, [0, 30], "right", [0, 5, 10, 15, 20, 25, 30], anchor="x4", major=12, minor=1,
                  minor_len=6),
    yaxis10=y_axis(None, [80.2, 129.5], "left", [90, 100, 110, 120], anchor="x4", major=22, minor=2,
                   minor_len=7, grid=True, overlaying="y9", minor0=80),
)
layout["yaxis9"]["tickfont"] = dict(family=NARROW, size=18, color="#3a3a3a")
fig.update_layout(layout)

# ---------------------------------------------------------------------------
shapes = []
annotations = []


def seg(x0, y0, x1, y1, color="black", width=2):
    shapes.append(dict(type="line", xref="paper", yref="paper", x0=px(x0), y0=py(y0), x1=px(x1), y1=py(y1),
                       line=dict(color=color, width=width)))


def box(x0, y0, x1, y1, color=YELLOW):
    shapes.append(dict(type="rect", xref="paper", yref="paper", x0=px(x0), y0=py(y0), x1=px(x1), y1=py(y1),
                       fillcolor=color, line=dict(width=0), layer="below"))


def arrow(tail, tip, head_len, head_w, width=2):
    (x0, y0), (x1, y1) = tail, tip
    d = np.hypot(x1 - x0, y1 - y0)
    ux, uy = (x1 - x0) / d, (y1 - y0) / d
    bx, by = x1 - ux * head_len, y1 - uy * head_len
    seg(x0, y0, bx + ux * 2, by + uy * 2, width=width)
    nx, ny = -uy * head_w / 2, ux * head_w / 2
    path = "M {} {} L {} {} L {} {} Z".format(px(x1), py(y1), px(bx + nx), py(by + ny), px(bx - nx), py(by - ny))
    shapes.append(dict(type="path", xref="paper", yref="paper", path=path, fillcolor="black",
                       line=dict(color="black", width=1)))


def text(s, x, y, size, family=SERIF, color="black", xanchor="left", angle=0):
    annotations.append(dict(text=s, x=px(x), y=py(y), xref="paper", yref="paper", showarrow=False,
                            xanchor=xanchor, yanchor="middle", textangle=angle,
                            font=dict(family=family, size=size, color=color)))


# Bunch-spacing banner
text("3.5 spacing", 141, 31, 43)
text("3.27 spacing", 541, 26, 43)
arrow((389, 69), (120, 69), 21, 20)
arrow((408, 69), (963, 69), 21, 20)
seg(399, 29, 399, 118, width=2)

# Summary header
text("Peak Luminosity", 127, 140, 26, color="#333")
text("Integrated Luminosity", 127, 167, 26, color="#333")
text("15.394", 479, 140, 26, color="#333", xanchor="right")
text("5736.30", 479, 167, 26, color="#333", xanchor="right")
text("[/nb/sec] @05/30 06:26", 494, 140, 26, color="#333")
text("[/pb]", 494, 167, 26, color="#333")
text("5/30/2005 0:00 - 6/6/2005 0:00 JST", 1450, 171, 26, color="#333", xanchor="right")

# Callout: IR downstream water
box(1028, 10.5, 1371, 105.7)
text("HER IR Downstream", 1048, 39, 31, color=TXT_BLUE)
text("Vac Water", 1048, 77.5, 31, color=TXT_BLUE)
arrow((1212, 106), (1356, 209), 20, 18, width=1.5)

# Axis titles with colour keys
text("Beam Current [A]", 32, 468, 40, angle=-90, xanchor="center")
seg(65, 314, 65, 620, RED, 3)
text("Luminosity [/nb/sec]", 34.5, 902, 30, angle=-90, xanchor="center")
seg(65, 795, 65, 1012, GOLD, 3)
text("Spec. Lum. [%]", 34.5, 1130, 20, family=SANS, angle=-90, xanchor="center")
seg(65, 1078, 65, 1180, BLUE, 3)

text("\u21d0 Lifetime [min]", 1530, 330, 36, angle=90, xanchor="center")
seg(1499, 228, 1499, 431, CYAN, 3)
text("Pressure [Pa] \u21d2", 1530, 607, 36, angle=90, xanchor="center")
seg(1499, 505, 1499, 706, PURPLE, 3)
text("Integ. Lum. [/fb]", 1559, 901, 29, angle=90, xanchor="center")
text("delivered &amp; logged", 1533, 903, 29, angle=90, xanchor="center")
seg(1499, 811, 1499, 911, LGREEN, 3)
seg(1499, 937, 1499, 1005, DGREEN, 3)
text("Belle", 1538.5, 1130, 22, angle=90, xanchor="center")
text("Dead Time [%]", 1515.5, 1127, 22, angle=90, xanchor="center")
seg(1499, 1083, 1499, 1177, GRAY, 3)

# Event callouts below the time axis
box(306.6, 1231.8, 476.2, 1311.4)
text("Tune", 326.5, 1255, 26, color=TXT_BLUE)
text("changer test", 326.5, 1287, 26, color=TXT_BLUE)
brace = ("M {a} {t} Q {a} {m} {b} {m} Q {c} {m} {c} {bot} Q {c} {m} {d} {m} Q {e} {m} {e} {t}").format(
    a=px(418.4), b=px(431.0), c=px(444.6), d=px(458.0), e=px(468.1), t=py(1185), m=py(1210), bot=py(1230))
shapes.append(dict(type="path", xref="paper", yref="paper", path=brace, line=dict(color="black", width=2)))

box(515, 1255, 695, 1369)
text("HER B2E", 536, 1284, 31, color=TXT_BLUE)
text("Oho water", 536, 1342, 31, color=TXT_BLUE)
arrow((607, 1255), (607, 1189), 19, 20)

box(744, 1253, 925, 1305)
text("Maintenance", 765, 1279, 26, color=TXT_BLUE)
arrow((817, 1253), (817, 1186), 19, 20)

fig.update_layout(shapes=shapes, annotations=annotations)

fig.write_html("out.html", config={"displayModeBar": False})
